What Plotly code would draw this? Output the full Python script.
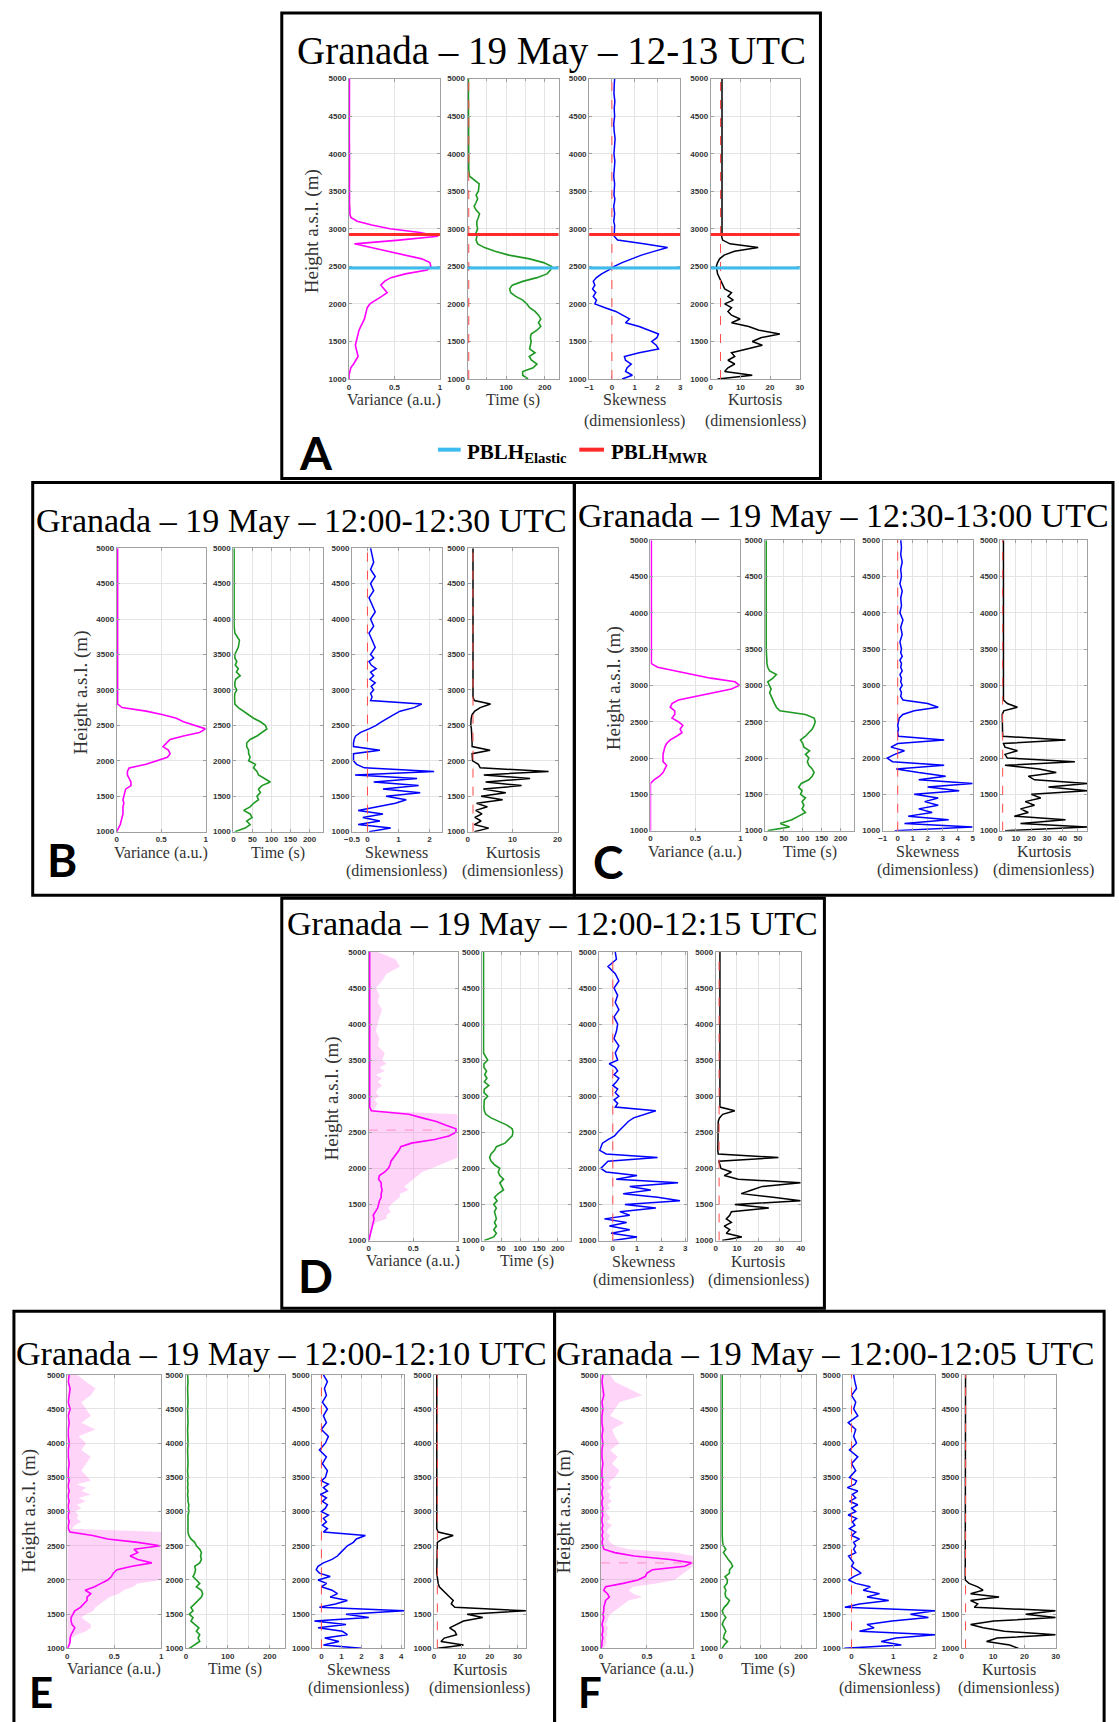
import plotly.graph_objects as go

W, H = 1119, 1722

# ---------------- shared height grid (m a.s.l.) ----------------
HEIGHTS = [1000, 1050, 1100, 1150, 1200, 1250, 1300, 1350, 1400, 1450, 1500,
           1550, 1600, 1650, 1700, 1750, 1800, 1850, 1900, 1950, 2000, 2050,
           2100, 2150, 2200, 2250, 2300, 2350, 2400, 2450, 2500, 2550, 2600,
           2650, 2700, 2750, 2800, 2850, 2900, 2950, 3000, 3050, 3100, 3150,
           3200, 3250, 3300, 3350, 3400, 3450, 3500,
           3600, 3700, 3800, 3900, 4000, 4100, 4200, 4300, 4400, 4500, 4600, 4700, 4800, 4900, 5000]
Y_TICKS = [1000, 1500, 2000, 2500, 3000, 3500, 4000, 4500, 5000]

# ---------------- Panel A: 12-13 UTC ----------------
A_VAR = [0.00, 0.00, 0.01, 0.02, 0.05, 0.08, 0.10, 0.09, 0.08, 0.07, 0.08,
         0.09, 0.10, 0.11, 0.13, 0.15, 0.17, 0.18, 0.19, 0.20, 0.23, 0.30,
         0.36, 0.42, 0.38, 0.35, 0.39, 0.46, 0.62, 0.86, 0.90, 0.89, 0.80,
         0.62, 0.43, 0.25, 0.06, 0.55, 0.98, 0.78, 0.45, 0.25, 0.09, 0.02,
         0.01, 0.01, 0.005, 0.005, 0.006, 0.004, 0.005,
         0.005, 0.006, 0.004, 0.005, 0.006, 0.005, 0.004, 0.005, 0.006, 0.005, 0.004, 0.005, 0.006, 0.005, 0.005]
A_TIME = [157, 143, 143, 170, 180, 166, 160, 175, 161, 163, 165,
          163, 165, 180, 190, 184, 190, 184, 175, 161, 154, 143,
          125, 112, 109, 116, 143, 180, 206, 215, 218, 197, 161,
          107, 71, 44, 26, 22, 24, 22, 26, 24, 24, 28,
          31, 22, 17, 22, 26, 22, 28,
          30, 5, 3, 3, 2, 2, 2, 2, 2, 2, 2, 2, 2, 2, 2]
A_SKEW = [0.45, 0.9, 0.6, 0.67, 0.85, 0.6, 0.55, 1.2, 2.05, 1.95, 1.75,
          1.98, 2.05, 1.65, 1.2, 0.6, 0.77, 0.47, 0.17, -0.3, -0.75, -0.68,
          -0.82, -0.71, -0.85, -0.75, -0.82, -0.68, -0.45, -0.15, 0.1, 0.45, 0.85,
          1.3, 1.85, 2.45, 1.4, 0.25, 0.1, 0.1, 0.1, 0.12, 0.08, 0.1,
          0.12, 0.1, 0.08, 0.11, 0.13, 0.09, 0.1,
          0.12, 0.08, 0.1, 0.13, 0.09, 0.11, 0.14, 0.1, 0.08, 0.12, 0.1, 0.13, 0.09, 0.1, 0.12]
A_KURT = [2.3, 14, 4.7, 5.8, 8.1, 5.8, 8.1, 7, 12.2, 17.4, 14,
          16.9, 23.3, 16.3, 12.8, 7, 9.9, 7, 5.8, 7, 4.7, 7.6,
          5.8, 7, 4.7, 4.1, 3.5, 2.9, 2.3, 2.1, 1.9, 2.3, 3,
          4.5, 8, 16, 6.5, 4.0, 3.7, 3.8, 3.8, 3.7, 3.9, 3.8,
          3.7, 3.8, 3.9, 3.8, 3.7, 3.8, 3.9,
          3.8, 3.7, 3.9, 3.8, 3.8, 3.7, 3.9, 3.8, 3.7, 3.8, 3.9, 3.8, 3.7, 3.8, 3.8]
A_PBLH_ELASTIC = 2480
A_PBLH_MWR = 2925

# ---------------- Panel B: 12:00-12:30 UTC ----------------
B_VAR = [0.0, 0.02, 0.04, 0.05, 0.06, 0.07, 0.07, 0.07, 0.08, 0.07, 0.08,
         0.09, 0.10, 0.16, 0.16, 0.14, 0.12, 0.12, 0.14, 0.33, 0.45, 0.57,
         0.60, 0.58, 0.52, 0.56, 0.60, 0.75, 0.93, 1.0, 0.88, 0.75, 0.67,
         0.52, 0.33, 0.06, 0.01, 0.01, 0.01, 0.01, 0.01, 0.01, 0.01, 0.01,
         0.01, 0.012, 0.01, 0.008, 0.01, 0.012, 0.01,
         0.01, 0.012, 0.01, 0.009, 0.011, 0.01, 0.012, 0.01, 0.009, 0.011, 0.01, 0.012, 0.01, 0.01, 0.01]
B_TIME = [4, 31, 44, 35, 49, 44, 27, 44, 53, 66, 62,
          71, 66, 75, 97, 80, 66, 62, 53, 58, 40, 44,
          40, 40, 35, 35, 44, 62, 75, 88, 84, 71, 53,
          40, 27, 13, 4, 3, 3, 4, 9, 4, 4, 6,
          18, 8, 13, 5, 9, 4, 4,
          13, 16, 4, 2, 2, 2, 2, 2, 2, 2, 2, 2, 2, 2, 2]
B_SKEW = [0.05, 0.75, -0.3, 0.4, -0.15, 0.5, -0.3, 0.3, 0.9, 1.25, 0.6,
          1.7, 0.5, 1.65, 0.2, 1.6, -0.4, 2.15, -0.1, -0.35, -0.45, -0.45,
          -0.45, 0.4, -0.45, -0.45, -0.43, -0.38, -0.22, 0.05, 0.28, 0.45, 0.67,
          0.85, 1.05, 1.5, 1.75, 0.1, 0.15, 0.1, 0.2, 0.12, 0.25, 0.08,
          0.2, 0.1, 0.28, 0.12, 0.05, 0.2, 0.1,
          0.25, 0.15, 0.05, 0.2, 0.1, 0.25, 0.15, 0.05, 0.2, 0.1, 0.25, 0.1, 0.2, 0.15, 0.1]
B_KURT = [1.5, 4.7, 1.5, 3.0, 1.6, 3.2, 1.8, 4.4, 2.0, 7.8, 3.0,
          8.5, 3.5, 12.0, 4.0, 13.9, 3.6, 18.0, 2.8, 2.4, 1.1, 1.0,
          1.0, 5.0, 1.0, 1.0, 1.0, 1.0, 1.0, 0.85, 0.7, 0.7, 0.8,
          1.0, 1.6, 2.8, 5.1, 1.5, 1.2, 1.2, 1.2, 1.2, 1.2, 1.2,
          1.2, 1.2, 1.2, 1.2, 1.2, 1.2, 1.2,
          1.2, 1.2, 1.2, 1.2, 1.2, 1.2, 1.2, 1.2, 1.2, 1.2, 1.2, 1.2, 1.2, 1.2, 1.2]

# ---------------- Panel C: 12:30-13:00 UTC ----------------
C_VAR = [0.0, 0.0, 0.0, 0.0, 0.0, 0.0, 0.0, 0.0, 0.0, 0.0, 0.0,
         0.0, 0.0, 0.0, 0.04, 0.10, 0.14, 0.16, 0.18, 0.14, 0.14, 0.14,
         0.15, 0.16, 0.18, 0.22, 0.29, 0.35, 0.33, 0.36, 0.31, 0.24, 0.27,
         0.27, 0.22, 0.24, 0.31, 0.51, 0.71, 0.90, 0.99, 0.94, 0.67, 0.47,
         0.31, 0.08, 0.01, 0.01, 0.01, 0.01, 0.01,
         0.01, 0.01, 0.012, 0.01, 0.01, 0.012, 0.01, 0.01, 0.012, 0.01, 0.01, 0.012, 0.01, 0.01, 0.01]
C_TIME = [7, 65, 40, 71, 89, 107, 98, 103, 98, 107, 94,
          98, 89, 96, 116, 125, 130, 125, 116, 112, 116, 107,
          118, 103, 100, 94, 107, 116, 125, 130, 133, 130, 107,
          39, 30, 25, 21, 16, 12, 16, 12, 7, 21, 30,
          12, 7, 5, 4, 3, 3, 3,
          3, 3, 3, 2, 3, 3, 3, 2, 3, 3, 3, 2, 3, 3, 3]
C_SKEW = [-0.2, 5.0, 0.45, 3.4, 0.7, 2.3, 1.4, 2.7, 1.8, 2.7, 1.1,
          4.1, 2.0, 5.0, 1.4, 3.2, 1.4, -0.1, 3.1, -0.35, -0.7, -0.2,
          0.45, -0.45, 0.0, 3.1, 0.05, 0.0, 0.05, 0.0, 0.05, 0.1, 0.34,
          1.1, 2.7, 2.0, 0.35, 0.2, 0.25, 0.15, 0.3, 0.2, 0.25, 0.15,
          0.3, 0.2, 0.25, 0.15, 0.3, 0.2, 0.25,
          0.15, 0.3, 0.2, 0.35, 0.15, 0.25, 0.2, 0.3, 0.15, 0.25, 0.2, 0.3, 0.2, 0.25, 0.2]
C_KURT = [3, 56, 13, 42, 9, 18, 13, 22, 16, 26, 20,
          56, 31, 56, 22, 18, 36, 25, 3, 48, 4.5, 3,
          11, 3, 2, 42, 1.5, 1.5, 1.5, 1.5, 1.5, 1.5, 1.2,
          2.2, 11, 4.5, 2, 2, 2, 2, 2, 2, 2, 2,
          2, 2, 2, 2, 2, 2, 2,
          2, 2, 2, 2, 2, 2, 2, 2, 2, 2, 2, 2, 2, 2, 2]

# ---------------- Panel D: 12:00-12:15 UTC ----------------
D_VAR = [0.0, 0.01, 0.02, 0.03, 0.04, 0.05, 0.06, 0.05, 0.08, 0.10, 0.11,
         0.12, 0.14, 0.14, 0.15, 0.14, 0.14, 0.11, 0.12, 0.18, 0.22, 0.24,
         0.25, 0.28, 0.32, 0.34, 0.36, 0.48, 0.74, 0.90, 0.98, 0.98, 0.86,
         0.76, 0.60, 0.45, 0.03, 0.01, 0.01, 0.01, 0.01, 0.01, 0.01, 0.01,
         0.01, 0.01, 0.01, 0.01, 0.01, 0.01, 0.01,
         0.01, 0.01, 0.01, 0.01, 0.01, 0.01, 0.01, 0.01, 0.01, 0.01, 0.01, 0.01, 0.01, 0.01, 0.01]
D_VAR_MAX = [0.02, 0.02, 0.03, 0.04, 0.05, 0.08, 0.20, 0.20, 0.25, 0.22, 0.25,
             0.30, 0.35, 0.35, 0.45, 0.40, 0.45, 0.50, 0.55, 0.60, 0.70, 0.80,
             0.90, 1.0, 1.0, 1.0, 1.0, 1.0, 1.0, 1.0, 1.0, 1.0, 1.0,
             1.0, 1.0, 1.0, 0.05, 0.08, 0.10, 0.06, 0.12, 0.08, 0.10, 0.15,
             0.10, 0.15, 0.08, 0.18, 0.12, 0.20, 0.15,
             0.18, 0.10, 0.12, 0.08, 0.10, 0.12, 0.15, 0.10, 0.12, 0.08, 0.15, 0.20, 0.35, 0.30, 0.10]
D_TIME = [5, 30, 37, 30, 37, 32, 37, 35, 32, 37, 30,
          39, 32, 42, 56, 51, 46, 56, 46, 42, 46, 32,
          23, 19, 23, 32, 37, 60, 69, 79, 81, 79, 65,
          46, 23, 9, 5, 4, 4, 5, 14, 4, 5, 17,
          5, 12, 6, 11, 4, 4, 14,
          3, 3, 3, 3, 3, 3, 3, 3, 3, 3, 3, 3, 3, 3, 3]
D_SKEW = [0.0, 1.0, -0.07, 0.7, -0.14, 0.57, -0.35, 0.7, 0.29, 1.78, 0.5,
          2.78, 1.85, 0.43, 1.57, 0.7, 2.7, 0.14, 1.0, -0.28, -0.5, -0.35,
          -0.2, 1.85, -0.28, -0.54, -0.5, -0.43, -0.2, 0.07, 0.2, 0.36, 0.5,
          0.64, 0.86, 1.3, 1.78, 0.1, 0.2, 0.05, 0.25, 0.1, 0.2, 0.0,
          0.15, 0.25, 0.05, 0.2, 0.1, -0.15, 0.2,
          0.1, 0.25, 0.05, 0.15, 0.2, 0.05, 0.25, 0.1, 0.2, 0.05, 0.25, 0.1, -0.2, 0.15, 0.1]
D_KURT = [3, 12.3, 5, 6.6, 4, 7.4, 5, 6.6, 7.4, 25, 9,
          40, 27, 12, 17, 22, 40, 10.6, 4, 7.4, 2.5, 2,
          1.5, 29.5, 1.2, 1.0, 1.0, 1.0, 1.0, 1.0, 1.0, 1.0, 1.0,
          1.2, 1.8, 3.3, 9, 2, 2, 2, 2, 2, 2, 2,
          2, 2, 2, 2, 2, 2, 2,
          2, 2, 2, 2, 2, 2, 2, 2, 2, 2, 2, 2, 2, 2, 2]
D_VAR_PEAK = 2530

# ---------------- Panel E: 12:00-12:10 UTC ----------------
E_VAR = [0.0, 0.02, 0.03, 0.03, 0.04, 0.06, 0.08, 0.05, 0.04, 0.04, 0.06,
         0.08, 0.14, 0.17, 0.21, 0.21, 0.25, 0.19, 0.29, 0.36, 0.43, 0.47,
         0.49, 0.53, 0.69, 0.90, 0.75, 0.67, 0.75, 0.71, 0.99, 0.75, 0.43,
         0.27, 0.03, 0.01, 0.01, 0.02, 0.01, 0.01, 0.02, 0.01, 0.01, 0.02,
         0.01, 0.01, 0.02, 0.01, 0.01, 0.02, 0.01,
         0.01, 0.02, 0.01, 0.01, 0.02, 0.01, 0.01, 0.02, 0.01, 0.03, 0.01, 0.02, 0.03, 0.01, 0.02]
E_VAR_MAX = [0.02, 0.03, 0.04, 0.05, 0.10, 0.20, 0.25, 0.25, 0.20, 0.15, 0.20,
             0.28, 0.30, 0.35, 0.40, 0.45, 0.55, 0.60, 0.70, 0.75, 1.0, 1.0,
             1.0, 1.0, 1.0, 1.0, 1.0, 1.0, 1.0, 1.0, 1.0, 1.0, 1.0,
             1.0, 1.0, 0.05, 0.08, 0.15, 0.10, 0.12, 0.08, 0.15, 0.10, 0.20,
             0.12, 0.25, 0.15, 0.20, 0.10, 0.25, 0.22,
             0.15, 0.20, 0.25, 0.15, 0.20, 0.12, 0.30, 0.15, 0.25, 0.20, 0.15, 0.25, 0.30, 0.20, 0.10]
E_TIME = [8, 21, 33, 29, 33, 25, 31, 21, 12, 17, 8,
          17, 12, 21, 29, 37, 40, 37, 25, 33, 25, 17,
          21, 23, 21, 33, 37, 35, 37, 33, 25, 21, 12,
          7, 5, 5, 4, 5, 4, 5, 7, 6, 7, 5,
          5, 4, 5, 4, 5, 4, 5,
          4, 5, 4, 4, 5, 4, 4, 5, 4, 4, 5, 4, 4, 5, 4]
E_SKEW = [2.0, 0.1, 0.88, 0.17, 1.3, 1.05, -0.17, 1.23, -0.35, 2.37, 1.23,
          4.15, -0.1, 0.7, 1.3, 0.44, 0.8, 0.53, 0.0, 0.26, -0.17, 0.44,
          -0.1, -0.26, -0.17, 0.1, 0.53, 0.8, 0.96, 1.15, 1.3, 1.6, 1.75,
          2.2, 0.1, 0.3, 0.05, 0.25, 0.1, 0.35, 0.0, 0.2, 0.3, 0.05,
          0.25, -0.05, 0.3, 0.1, 0.35, 0.0, 0.2,
          0.3, 0.05, 0.25, -0.1, 0.2, 0.35, 0.0, 0.25, 0.1, 0.3, 0.05, 0.25, 0.15, 0.3, 0.1]
E_KURT = [1.3, 10.6, 2.5, 3.7, 8.1, 7.5, 5.6, 8.1, 10.6, 17.5, 11.9,
          33, 7.5, 6.2, 6.9, 5.6, 4.4, 3.1, 1.9, 1.5, 1.3, 1.0,
          1.0, 1.0, 1.0, 1.0, 1.0, 1.0, 1.0, 1.0, 1.0, 1.2, 3.1,
          6.9, 1.5, 1.0, 1.0, 1.0, 1.0, 1.0, 1.0, 1.0, 1.0, 1.0,
          1.0, 1.0, 1.0, 1.0, 1.0, 1.0, 1.0,
          1.0, 1.0, 1.0, 1.0, 1.0, 1.0, 1.0, 1.0, 1.0, 1.0, 1.0, 1.0, 1.0, 1.0, 1.0]

# ---------------- Panel F: 12:00-12:05 UTC ----------------
F_VAR = [0.0, 0.01, 0.01, 0.02, 0.01, 0.02, 0.02, 0.01, 0.02, 0.03, 0.02,
         0.03, 0.03, 0.04, 0.05, 0.09, 0.07, 0.03, 0.05, 0.24, 0.40, 0.48,
         0.50, 0.56, 0.91, 0.99, 0.75, 0.36, 0.15, 0.03, 0.02, 0.01, 0.02,
         0.01, 0.02, 0.01, 0.02, 0.01, 0.01, 0.02, 0.01, 0.02, 0.01, 0.01,
         0.02, 0.01, 0.01, 0.02, 0.01, 0.02, 0.01,
         0.01, 0.02, 0.01, 0.01, 0.02, 0.01, 0.02, 0.01, 0.01, 0.02, 0.01, 0.03, 0.02, 0.01, 0.02]
F_VAR_MAX = [0.03, 0.05, 0.06, 0.05, 0.07, 0.06, 0.08, 0.05, 0.07, 0.08, 0.10,
             0.15, 0.20, 0.25, 0.30, 0.45, 0.35, 0.30, 0.35, 0.60, 0.80, 0.85,
             0.90, 0.95, 1.0, 1.0, 1.0, 1.0, 0.80, 0.30, 0.15, 0.10, 0.08,
             0.10, 0.06, 0.08, 0.12, 0.06, 0.10, 0.08, 0.05, 0.10, 0.07, 0.12,
             0.08, 0.10, 0.06, 0.12, 0.08, 0.10, 0.15,
             0.20, 0.12, 0.18, 0.10, 0.20, 0.15, 0.12, 0.25, 0.10, 0.15, 0.20, 0.45, 0.30, 0.15, 0.10]
F_TIME = [4, 9, 17, 7, 9, 13, 9, 4, 7, 13, 7,
          4, 9, 17, 22, 13, 11, 13, 9, 16, 17, 11,
          22, 22, 30, 26, 19, 13, 7, 13, 7, 5, 4,
          4, 4, 4, 4, 4, 4, 4, 4, 4, 4, 4,
          4, 4, 4, 4, 4, 4, 4,
          4, 4, 4, 4, 4, 4, 4, 4, 4, 4, 4, 4, 4, 4, 4]
F_SKEW = [-0.17, 1.19, 0.71, 1.06, 2.0, 0.19, 0.54, 0.37, 0.97, 1.84, 1.41,
          2.0, -0.16, 0.19, 0.89, 0.37, 0.67, 0.28, 0.45, 0.1, -0.07, 0.05,
          0.23, 0.1, 0.0, 0.05, 0.0, -0.07, 0.1, 0.05, 0.1, 0.05, 0.19,
          0.0, 0.1, -0.05, 0.08, 0.02, 0.12, -0.08, 0.1, 0.0, 0.15, -0.05,
          0.1, 0.02, 0.15, -0.1, 0.08, 0.12, -0.05,
          0.1, 0.0, 0.15, -0.05, 0.12, 0.05, 0.1, -0.08, 0.15, 0.05, 0.1, 0.0, 0.12, 0.08, 0.05]
F_KURT = [18.1, 15.3, 7.9, 11.3, 30, 13.6, 6.8, 2.8, 10.2, 30, 20.4,
          30, 4, 5.1, 2.8, 11.9, 2.8, 6.8, 5.1, 2.3, 1.1, 1.1,
          1.1, 1.1, 1.1, 1.1, 1.1, 1.1, 1.1, 1.1, 1.1, 1.1, 1.1,
          1.2, 1.2, 1.2, 1.2, 1.2, 1.2, 1.2, 1.2, 1.2, 1.2, 1.2,
          1.2, 1.2, 1.2, 1.2, 1.2, 1.2, 1.2,
          1.2, 1.2, 1.2, 1.2, 1.2, 1.2, 1.2, 1.2, 1.2, 1.2, 1.2, 1.2, 1.2, 1.2, 1.2]
F_VAR_PEAK = 2250

# ---------------- axis ranges / ticks ----------------
VAR_TICKS = [0, 0.5, 1]
TIME_TICKS_50 = [0, 50, 100, 150, 200]
TIME_TICKS_100 = [0, 100, 200]
TIME_MINOR_100 = [50, 150]

PANELS = [
    dict(key='A', title='Granada – 19 May – 12-13 UTC',
         var=A_VAR, env=None, time=A_TIME, skew=A_SKEW, kurt=A_KURT,
         time_ticks=TIME_TICKS_100, time_minor=TIME_MINOR_100, skew_range=[-1, 3], skew_ticks=[-1, 0, 1, 2, 3],
         kurt_range=[0, 30], kurt_ticks=[0, 10, 20, 30], kurt_ref=3.3, time_ref=3, var_peak=None),
    dict(key='B', title='Granada – 19 May – 12:00-12:30 UTC',
         var=B_VAR, env=None, time=B_TIME, skew=B_SKEW, kurt=B_KURT,
         time_ticks=TIME_TICKS_50, time_minor=None, skew_range=[-0.5, 2.4], skew_ticks=[-0.5, 0, 1, 2],
         kurt_range=[0, 20], kurt_ticks=[0, 10, 20], kurt_ref=1.2, time_ref=None, var_peak=None),
    dict(key='C', title='Granada – 19 May – 12:30-13:00 UTC',
         var=C_VAR, env=None, time=C_TIME, skew=C_SKEW, kurt=C_KURT,
         time_ticks=TIME_TICKS_50, time_minor=None, skew_range=[-1, 5], skew_ticks=[-1, 0, 1, 2, 3, 4, 5],
         kurt_range=[0, 56], kurt_ticks=[0, 10, 20, 30, 40, 50], kurt_ref=1.5, time_ref=None, var_peak=None),
    dict(key='D', title='Granada – 19 May – 12:00-12:15 UTC',
         var=D_VAR, env=D_VAR_MAX, time=D_TIME, skew=D_SKEW, kurt=D_KURT,
         time_ticks=TIME_TICKS_50, time_minor=None, skew_range=[-0.57, 3.07], skew_ticks=[0, 1, 2, 3],
         kurt_range=[0, 40], kurt_ticks=[0, 10, 20, 30, 40], kurt_ref=1.6, time_ref=None, var_peak=D_VAR_PEAK),
    dict(key='E', title='Granada – 19 May – 12:00-12:10 UTC',
         var=E_VAR, env=E_VAR_MAX, time=E_TIME, skew=E_SKEW, kurt=E_KURT,
         time_ticks=TIME_TICKS_100, time_minor=TIME_MINOR_100, skew_range=[-0.45, 4.15], skew_ticks=[0, 1, 2, 3, 4],
         kurt_range=[0, 33], kurt_ticks=[0, 10, 20, 30], kurt_ref=1.2, time_ref=None, var_peak=None),
    dict(key='F', title='Granada – 19 May – 12:00-12:05 UTC',
         var=F_VAR, env=F_VAR_MAX, time=F_TIME, skew=F_SKEW, kurt=F_KURT,
         time_ticks=TIME_TICKS_100, time_minor=TIME_MINOR_100, skew_range=[-0.2, 2.0], skew_ticks=[0, 1, 2],
         kurt_range=[0, 30], kurt_ticks=[0, 10, 20, 30], kurt_ref=1.2, time_ref=None, var_peak=F_VAR_PEAK),
]

# ---------------- page geometry (pixels) ----------------
GEOM = {
    'A': dict(cols=[(345, 437), (465, 557), (588, 680), (711, 801)], top=75, bottom=377,
              title=(550, 47, 39), ytitle=(307, 228), letter=(312, 451, 46), border=(277, 9, 822, 477)),
    'B': dict(cols=[(110, 200), (228, 319), (348, 439), (465, 556)], top=547, bottom=832,
              title=(297, 519, 34), ytitle=(74, 692), letter=(55, 860, 46), border=(25, 481, 573, 896)),
    'C': dict(cols=[(650, 741), (766, 856), (885, 976), (1004, 1092)], top=539, bottom=831,
              title=(845, 514, 34), ytitle=(614, 688), letter=(607, 862, 46), border=(573, 481, 1118, 896)),
    'D': dict(cols=[(365, 455), (480, 570), (598, 687), (716, 802)], top=953, bottom=1243,
              title=(551, 924, 34), ytitle=(328, 1100), letter=(311, 1278, 46), border=(277, 899, 826, 1311)),
    'E': dict(cols=[(60, 155), (180, 280), (308, 401), (431, 524)], top=1378, bottom=1653,
              title=(277, 1357, 34), ytitle=(21, 1515), letter=(33, 1697, 42), border=(6, 1314, 553, 1730)),
    'F': dict(cols=[(600, 693), (721, 817), (845, 938), (965, 1060)], top=1378, bottom=1653,
              title=(827, 1356, 34.5), ytitle=(563, 1515), letter=(589, 1697, 42), border=(553, 1314, 1109, 1730)),
}

SERIF = 'Liberation Serif'
SANS = 'Liberation Sans'
COL_VAR = '#ff00ff'
COL_TIME = '#1f9a24'
COL_SKEW = '#0000ff'
COL_KURT = '#000000'
COL_REF = '#ff4a4a'
LABEL_COL = '#333333'


def px(x):
    return x / W


def py(y):
    return 1 - y / H


fig = go.Figure()
layout = {}
shapes = []
annotations = []

axis_common = dict(showline=True, linecolor='#a0a0a0', linewidth=1, mirror='ticks',
                   ticks='inside', ticklen=3, tickcolor='#a0a0a0', tickangle=0,
                   showgrid=True, gridcolor='#e4e4e4', gridwidth=1, zeroline=False,
                   tickfont=dict(family=SANS, size=8, color='#333333', weight='bold'),
                   fixedrange=True)

for p_i, P in enumerate(PANELS):
    G = GEOM[P['key']]
    xlabels = ['Variance (a.u.)', 'Time (s)', 'Skewness', 'Kurtosis']
    for j in range(4):
        n = p_i * 4 + j + 1
        xa = 'x' if n == 1 else f'x{n}'
        ya = 'y' if n == 1 else f'y{n}'
        x0, x1 = G['cols'][j]
        minor = None
        if j == 0:
            rng, tv = [0, 1], VAR_TICKS
        elif j == 1:
            rng, tv = [0, 236], P['time_ticks']
            minor = P['time_minor']
        elif j == 2:
            rng, tv = P['skew_range'], P['skew_ticks']
        else:
            rng, tv = P['kurt_range'], P['kurt_ticks']
        xd = dict(axis_common, domain=[px(x0), px(x1)], range=rng, tickvals=tv, anchor=ya)
        if minor is not None:
            xd['minor'] = dict(tickvals=minor, showgrid=True, gridcolor='#e4e4e4', gridwidth=1,
                               ticks='inside', ticklen=2, tickcolor='#a0a0a0')
        layout['xaxis' if n == 1 else f'xaxis{n}'] = xd
        layout['yaxis' if n == 1 else f'yaxis{n}'] = dict(
            axis_common, domain=[py(G['bottom']), py(G['top'])], range=[1000, 5000],
            tickvals=Y_TICKS, anchor=xa)

        # data traces
        if j == 0:
            if P['env'] is not None:
                fig.add_trace(go.Scatter(x=P['env'], y=HEIGHTS, xaxis=xa, yaxis=ya, mode='lines',
                                         line=dict(width=0, color='rgba(255,110,230,0)'),
                                         fill='tozerox', fillcolor='rgba(255,120,235,0.32)'))
            if P['var_peak'] is not None:
                shapes.append(dict(type='line', xref=f'{xa} domain', yref=ya, x0=0, x1=1,
                                   y0=P['var_peak'], y1=P['var_peak'],
                                   line=dict(color='#ff9acb', width=1.2, dash='dash')))
            fig.add_trace(go.Scatter(x=P['var'], y=HEIGHTS, xaxis=xa, yaxis=ya, mode='lines',
                                     line=dict(color=COL_VAR, width=1.6)))
        elif j == 1:
            if P['time_ref'] is not None:
                shapes.append(dict(type='line', xref=xa, yref=f'{ya} domain', x0=P['time_ref'],
                                   x1=P['time_ref'], y0=0, y1=1,
                                   line=dict(color=COL_REF, width=1, dash='dash')))
            fig.add_trace(go.Scatter(x=P['time'], y=HEIGHTS, xaxis=xa, yaxis=ya, mode='lines',
                                     line=dict(color=COL_TIME, width=1.6)))
        elif j == 2:
            shapes.append(dict(type='line', xref=xa, yref=f'{ya} domain', x0=0, x1=0, y0=0, y1=1,
                               line=dict(color=COL_REF, width=1, dash='dash')))
            fig.add_trace(go.Scatter(x=P['skew'], y=HEIGHTS, xaxis=xa, yaxis=ya, mode='lines',
                                     line=dict(color=COL_SKEW, width=1.5)))
        else:
            shapes.append(dict(type='line', xref=xa, yref=f'{ya} domain', x0=P['kurt_ref'],
                               x1=P['kurt_ref'], y0=0, y1=1,
                               line=dict(color=COL_REF, width=1, dash='dash')))
            fig.add_trace(go.Scatter(x=P['kurt'], y=HEIGHTS, xaxis=xa, yaxis=ya, mode='lines',
                                     line=dict(color=COL_KURT, width=1.5)))

        # PBLH lines (panel A)
        if P['key'] == 'A':
            shapes.append(dict(type='line', xref=f'{xa} domain', yref=ya, x0=0, x1=1,
                               y0=A_PBLH_MWR, y1=A_PBLH_MWR, line=dict(color='#ff2a2a', width=3)))
            shapes.append(dict(type='line', xref=f'{xa} domain', yref=ya, x0=0, x1=1,
                               y0=A_PBLH_ELASTIC, y1=A_PBLH_ELASTIC, line=dict(color='#3cbcee', width=3)))

        # x-axis labels
        cx = (x0 + x1) / 2
        off2 = 42 if P['key'] == 'A' else 40
        annotations.append(dict(text=xlabels[j], x=px(cx), y=py(G['bottom'] + 21), xref='paper',
                                yref='paper', xanchor='center', yanchor='middle', showarrow=False,
                                font=dict(family=SERIF, size=16, color=LABEL_COL)))
        if j >= 2:
            annotations.append(dict(text='(dimensionless)', x=px(cx), y=py(G['bottom'] + off2),
                                    xref='paper', yref='paper', xanchor='center', yanchor='middle',
                                    showarrow=False, font=dict(family=SERIF, size=16, color=LABEL_COL)))

    # title
    tx, ty, ts = G['title']
    annotations.append(dict(text=P['title'], x=px(tx), y=py(ty), xref='paper', yref='paper',
                            xanchor='center', yanchor='middle', showarrow=False,
                            font=dict(family=SERIF, size=ts, color='#000000')))
    # y title
    yx, yy = G['ytitle']
    annotations.append(dict(text='Height a.s.l. (m)', x=px(yx), y=py(yy), xref='paper', yref='paper',
                            xanchor='center', yanchor='middle', textangle=-90, showarrow=False,
                            font=dict(family=SERIF, size=19, color=LABEL_COL)))
    # panel letter
    lx, ly, ls = G['letter']
    annotations.append(dict(text=P['key'], x=px(lx), y=py(ly), xref='paper', yref='paper',
                            xanchor='center', yanchor='middle', showarrow=False,
                            font=dict(family='Lato', size=ls, color='#000000', weight='bold')))
    # border
    bx0, by0, bx1, by1 = G['border']
    shapes.append(dict(type='rect', xref='paper', yref='paper', x0=px(bx0), x1=px(bx1),
                       y0=py(by1), y1=py(by0), line=dict(color='#000000', width=3),
                       fillcolor='rgba(0,0,0,0)', layer='above'))

# legend of panel A
LEG_Y = 448
shapes.append(dict(type='line', xref='paper', yref='paper', x0=px(435), x1=px(458),
                   y0=py(LEG_Y), y1=py(LEG_Y), line=dict(color='#3cbcee', width=4)))
shapes.append(dict(type='line', xref='paper', yref='paper', x0=px(578), x1=px(603),
                   y0=py(LEG_Y), y1=py(LEG_Y), line=dict(color='#ff2a2a', width=4)))
annotations.append(dict(text='<b>PBLH<sub>Elastic</sub></b>', x=px(462), y=py(LEG_Y + 3),
                        xref='paper', yref='paper', xanchor='left', yanchor='middle', showarrow=False,
                        font=dict(family=SERIF, size=21, color='#000000')))
annotations.append(dict(text='<b>PBLH<sub>MWR</sub></b>', x=px(608), y=py(LEG_Y + 3),
                        xref='paper', yref='paper', xanchor='left', yanchor='middle', showarrow=False,
                        font=dict(family=SERIF, size=21, color='#000000')))

layout.update(dict(width=W, height=H, margin=dict(l=0, r=0, t=0, b=0), showlegend=False,
                   paper_bgcolor='white', plot_bgcolor='white', shapes=shapes, annotations=annotations))
fig.update_layout(**layout)

for arr in [A_VAR, A_TIME, A_SKEW, A_KURT, B_VAR, B_TIME, B_SKEW, B_KURT, C_VAR, C_TIME, C_SKEW, C_KURT,
            D_VAR, D_VAR_MAX, D_TIME, D_SKEW, D_KURT, E_VAR, E_VAR_MAX, E_TIME, E_SKEW, E_KURT,
            F_VAR, F_VAR_MAX, F_TIME, F_SKEW, F_KURT]:
    assert len(arr) == len(HEIGHTS), len(arr)

fig.write_html('out.html')
